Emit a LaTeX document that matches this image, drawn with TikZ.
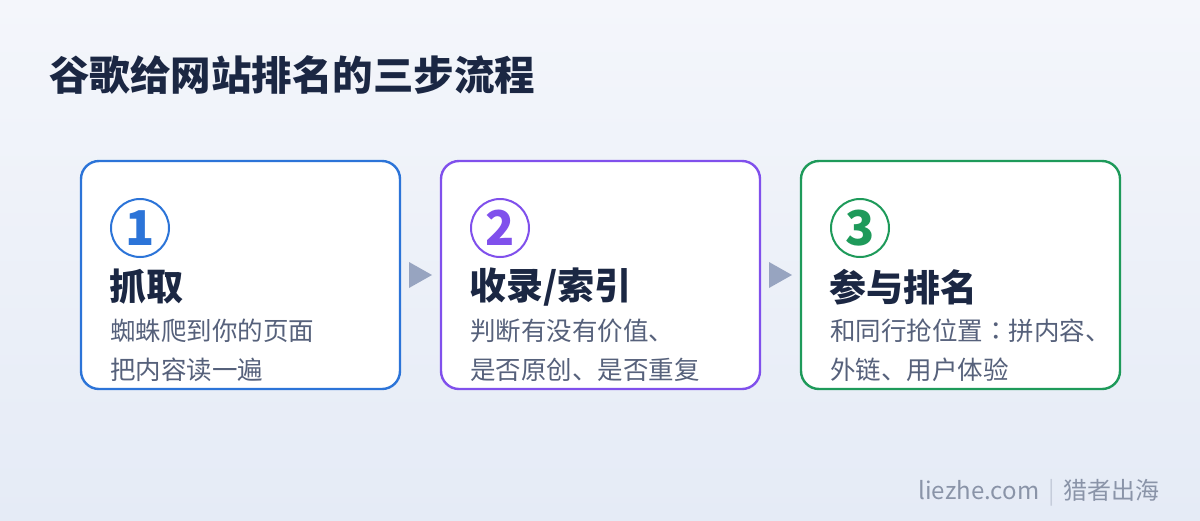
\documentclass[tikz,border=0pt]{standalone}
\usepackage{fontspec}
\setmainfont{Noto Sans CJK SC}
\newfontfamily\cjktc{Noto Sans CJK TC}
\usetikzlibrary{calc}

\definecolor{bgtop}{HTML}{F4F6FB}
\definecolor{bgbot}{HTML}{E5EBF6}
\definecolor{ink}{HTML}{1B2743}
\definecolor{subgray}{HTML}{56617B}
\definecolor{stepblue}{HTML}{2C74D8}
\definecolor{steppurple}{HTML}{8050EC}
\definecolor{stepgreen}{HTML}{1E9A5A}
\definecolor{arrowgray}{HTML}{97A4C0}
\definecolor{footgray}{HTML}{8A94A8}
\definecolor{sepgray}{HTML}{C5CCDA}

\begin{document}
\begin{tikzpicture}[x=1pt, y=-1pt,
    stepbox/.style={draw, line width=2.4pt, rounded corners=18pt, fill=white,
        minimum width=319pt, minimum height=228pt, anchor=north west, outer sep=0pt},
    numring/.style={circle, draw, line width=2pt, minimum size=58pt, inner sep=0pt,
        font=\fontsize{48}{48}\selectfont\bfseries},
    headtext/.style={anchor=west, inner sep=0pt, text=ink,
        font=\fontsize{37}{37}\selectfont\bfseries},
    subtext/.style={anchor=west, inner sep=0pt, text=subgray, align=left,
        font=\fontsize{25.5}{39}\selectfont}]

    % Background
    \useasboundingbox (0,0) rectangle (1200,520);
    \fill[top color=bgtop, bottom color=bgbot] (0,0) rectangle (1200,520);

    % Title
    \node[anchor=west, inner sep=0pt, text=ink, font=\fontsize{40.5}{40.5}\selectfont\bfseries]
        (title) at (49,75) {谷歌给网站排名的三步流程};

    % Step 1
    \node[stepbox, draw=stepblue] (b1) at (81,161) {};
    \node[numring, draw=stepblue, text=stepblue] (n1) at (140,228) {1};
    \node[headtext] (h1) at (109,287) {抓取};
    \node[subtext] (s1) at (110,350) {蜘蛛爬到你的页面\\把内容读一遍};

    % Step 2
    \node[stepbox, draw=steppurple] (b2) at (441,161) {};
    \node[numring, draw=steppurple, text=steppurple] (n2) at (500,228) {2};
    \node[headtext] (h2) at (469,287) {收录/索引};
    \node[subtext] (s2) at (470,350) {判断有没有价值、\\是否原创、是否重复};

    % Step 3
    \node[stepbox, draw=stepgreen] (b3) at (801,161) {};
    \node[numring, draw=stepgreen, text=stepgreen] (n3) at (860,228) {3};
    \node[headtext] (h3) at (829,287) {参与排名};
    \node[subtext] (s3) at (830,350) {和同行抢位置{\cjktc ：}拼内容、\\外链、用户体验};

    % Arrows
    \fill[arrowgray] ($(b1.east)+(9,-13)$) -- ($(b1.east)+(9,13)$) -- ($(b1.east)+(32,0)$) -- cycle;
    \fill[arrowgray] ($(b2.east)+(9,-13)$) -- ($(b2.east)+(9,13)$) -- ($(b2.east)+(32,0)$) -- cycle;

    % Footer
    \node[anchor=east, inner sep=0pt, text=footgray, font=\fontsize{24}{24}\selectfont]
        (foot) at (1160,493) {liezhe.com\hspace{9pt}{\color{sepgray}|}\hspace{9pt}猎者出海};
\end{tikzpicture}
\end{document}
